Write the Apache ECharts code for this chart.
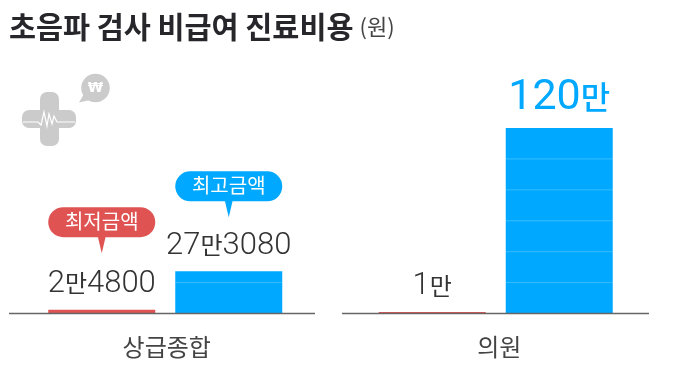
<!DOCTYPE html>
<html><head><meta charset="utf-8">
<style>html,body{margin:0;padding:0;background:#fff}#c{width:673px;height:381px}</style>
<script src="https://cdn.jsdelivr.net/npm/echarts@6/dist/echarts.min.js"></script>
</head><body><div id="c"></div>
<script>
const categories = ['상급종합', '의원'];
const seriesNames = ['최저금액', '최고금액'];
const lowValues = [24800, 10000];
const highValues = [273080, 1200000];
const lowLabels = ['2만4800', '1만'];
const highLabels = ['27만3080', '120만'];
const gridStep = 200000;

const RED = '#e05353', BLUE = '#00a9ff', INK = '#333', KR = '"Noto Sans CJK KR"';
const BAR_W = 107, GAP = 20;
const chart = echarts.init(document.getElementById('c'), null, {renderer: 'canvas'});

function richLabel(s) {
  return s.replace(/(\d+)/g, '{n|$1}').replace(/만/g, '{m|만}');
}
function bigRich(s) {
  return s.replace(/(\d+)/g, '{N|$1}').replace(/만/g, '{M|만}');
}
const labelRich = {
  n: {fontFamily: 'Roboto', fontWeight: 300, fontSize: 31, color: INK},
  m: {fontFamily: KR, fontWeight: 400, fontSize: 24, color: INK, padding: [0, 0, 2, 0]},
  N: {fontFamily: 'Roboto', fontWeight: 400, fontSize: 43, color: BLUE},
  M: {fontFamily: KR, fontWeight: 500, fontSize: 32, color: BLUE, padding: [0, 0, 3, 0]}
};

function barSeries(name, values, labels, color) {
  return {
    name, type: 'bar', barWidth: BAR_W, barGap: (GAP / BAR_W * 100) + '%',
    itemStyle: {color}, silent: true,
    data: values.map((v, i) => ({
      value: v,
      label: {
        show: true, position: 'top', distance: v >= 1000000 ? 8 : 10,
        formatter: v >= 1000000 ? bigRich(labels[i]) : richLabel(labels[i]),
        rich: labelRich
      }
    }))
  };
}

const barOffset = (BAR_W + GAP) / 2;

// thin white rules across the blue bars, at every grid step below the bar top
const ruleData = [];
highValues.forEach((v, i) => {
  for (let k = gridStep; k < v; k += gridStep) ruleData.push([i, k]);
});

const bubbles = [
  {cat: 0, value: lowValues[0], side: -1, text: seriesNames[0], color: RED, lift: 72.5},
  {cat: 0, value: highValues[0], side: 1, text: seriesNames[1], color: BLUE, lift: 70}
];

chart.setOption({
  animation: false,
  backgroundColor: '#fff',
  title: {
    left: 9, top: 12, padding: 0,
    text: '{a|초음파 검사 비급여 진료비용} {b|(원)}',
    textStyle: {rich: {
      a: {fontFamily: KR, fontWeight: 700, fontSize: 29.4, color: '#26262b'},
      b: {fontFamily: KR, fontWeight: 400, fontSize: 22, color: '#444', padding: [0, 0, 0, 1]}
    }}
  },
  grid: {left: -1, right: 12, top: 128, bottom: 67.5, containLabel: false},
  xAxis: {
    type: 'category', data: categories,
    axisLine: {show: false}, axisTick: {show: false},
    axisLabel: {
      margin: 21,
      formatter: (v, i) => i === 0 ? '{a|' + v + '}' : '{b|' + v + '}',
      rich: {
        a: {fontFamily: KR, fontWeight: 400, fontSize: 24, color: '#444', padding: [0, 0, 0, 3]},
        b: {fontFamily: KR, fontWeight: 400, fontSize: 24, color: '#444', padding: [0, 0, 0, 7]}
      }
    }
  },
  yAxis: {type: 'value', min: 0, max: 1200000, show: false},
  series: [
    barSeries(seriesNames[0], lowValues, lowLabels, RED),
    barSeries(seriesNames[1], highValues, highLabels, BLUE),
    {
      type: 'custom', silent: true, z: 3, data: ruleData, encode: {x: 0, y: 1},
      renderItem(params, api) {
        const p = api.coord([api.value(0), api.value(1)]);
        const x = p[0] + barOffset;
        return {type: 'line', shape: {x1: x - BAR_W / 2, y1: p[1], x2: x + BAR_W / 2, y2: p[1]},
                style: {stroke: 'rgba(255,255,255,0.22)', lineWidth: 1}};
      }
    },
    {
      type: 'custom', silent: true, z: 4, data: bubbles.map(b => [b.cat, b.value]), encode: {x: 0, y: 1},
      renderItem(params, api) {
        const b = bubbles[params.dataIndex];
        const p = api.coord([api.value(0), api.value(1)]);
        const cx = p[0] + b.side * barOffset, bottom = p[1] - b.lift, h = 30;
        return {type: 'group', children: [
          {type: 'rect', shape: {x: cx - BAR_W / 2, y: bottom - h, width: BAR_W, height: h, r: 15}, style: {fill: b.color}},
          {type: 'polygon', shape: {points: [[cx - 4, bottom - 1], [cx + 4, bottom - 1], [cx, bottom + 16]]}, style: {fill: b.color}},
          {type: 'text', style: {text: b.text, x: cx, y: bottom - h / 2 - 1, align: 'center', verticalAlign: 'middle',
            fill: '#fff', font: '400 20px ' + KR}}
        ]};
      }
    }
  ],
  graphic: [
    {type: 'line', z: 10, shape: {x1: 9, y1: 313.5, x2: 315, y2: 313.5}, style: {stroke: '#666', lineWidth: 1.5}},
    {type: 'line', z: 10, shape: {x1: 342, y1: 313.5, x2: 649, y2: 313.5}, style: {stroke: '#666', lineWidth: 1.5}},
    // icon
    {type: 'rect', shape: {x: 40, y: 92, width: 19, height: 54, r: 7}, style: {fill: '#cbcbcb'}},
    {type: 'rect', shape: {x: 22, y: 110, width: 54, height: 18, r: 7}, style: {fill: '#cbcbcb'}},
    {type: 'polyline', shape: {points: [[23, 122], [38, 122], [41, 125], [44, 112], [47, 126], [49, 114], [52, 124], [54, 116], [57, 122], [75, 122]]},
      style: {stroke: '#fff', lineWidth: 1.2, fill: null}},
    {type: 'circle', shape: {cx: 95.5, cy: 88, r: 14.3}, style: {fill: '#cbcbcb'}},
    {type: 'polygon', shape: {points: [[84, 94], [90, 100], [79, 102.5]]}, style: {fill: '#cbcbcb'}},
    {type: 'text', style: {text: '₩', x: 95.5, y: 88, align: 'center', verticalAlign: 'middle', fill: '#fff', font: '700 14px "DejaVu Sans"'}}
  ]
});
</script></body></html>
